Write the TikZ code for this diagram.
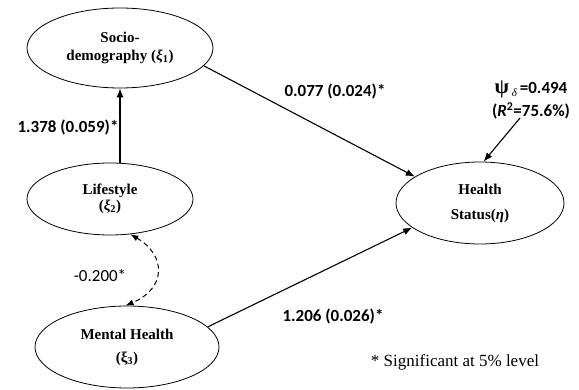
\documentclass[tikz,border=0pt]{standalone}
\usepackage{fontspec}
\setmainfont{Liberation Serif}
\newfontfamily\calfont{Carlito}
\usetikzlibrary{shapes.geometric,arrows.meta}

\begin{document}
\begin{tikzpicture}[x=1pt,y=-1pt,
		latent/.style={draw,ellipse,line width=0.8pt,inner sep=0pt,align=center,
			font=\bfseries\fontsize{15}{18}\selectfont},
		coef/.style={font=\calfont\bfseries\fontsize{17}{20}\selectfont},
		path/.style={-{Latex[length=9pt,width=7pt]},line width=1.1pt}]
		\useasboundingbox (0,0) rectangle (579,390);
		% latent variables
		\node[latent,minimum width=186pt,minimum height=80pt] (socio) at (120,48) {Socio-\\demography (\textit{ξ}\textsubscript{1})};
		\node[latent,minimum width=166pt,minimum height=72pt] (life) at (110,199) {Lifestyle\\[-2pt](\textit{ξ}\textsubscript{2})};
		\node[latent,minimum width=184pt,minimum height=82pt] (mental) at (127,347) {Mental Health\\[5pt](ξ\textsubscript{3})};
		\node[latent,minimum width=168pt,minimum height=82pt] (health) at (480,203) {Health\\[7pt]Status(\textit{η})};
		% paths
		\draw[path] (life.north -| socio.south) -- (socio.south);
		\draw[path] (socio.-12) -- (health.158);
		\draw[path] (mental.14) -- (health.200);
		\draw[{Latex[length=8pt,width=6pt]}-{Latex[length=8pt,width=6pt]},dash pattern=on 5pt off 3.5pt,line width=1pt]
			(life.-60) .. controls (166,255) and (167,288) .. (mental.92);
		% estimates
		\node[coef] (b1) at (68,127) {1.378 (0.059)*};
		\node[coef] (b2) at (335,91) {0.077 (0.024)*};
		\node[coef] (b3) at (333,316) {1.206 (0.026)*};
		\node[coef,font=\calfont\fontsize{17}{20}\selectfont] (cov) at (100,276) {-0.200*};
		\node[coef,align=center] (err) at (531,100) {{\rmfamily\fontsize{21}{21}\selectfont ψ}\,\raisebox{-3pt}{\rmfamily\itshape\mdseries\fontsize{11}{11}\selectfont δ}\,=0.494\\[3pt](\textit{R}\textsuperscript{2}=75.6\%)};
		\coordinate (errtail) at (520,118);
		\draw[path] (errtail) -- (health.85);
		\node[font=\fontsize{17}{20}\selectfont] (note) at (455,362) {* Significant at 5\% level};
\end{tikzpicture}
\end{document}
